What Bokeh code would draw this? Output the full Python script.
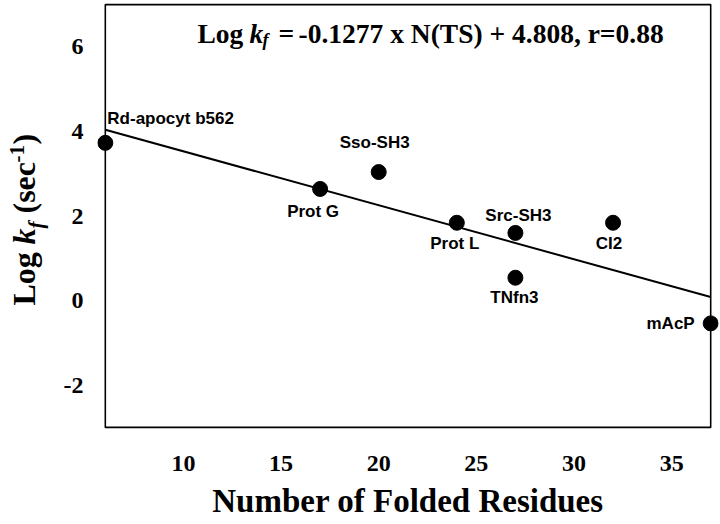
import math
from bokeh.plotting import figure
from bokeh.layouts import row
from bokeh.models import BoxAnnotation, Label, FixedTicker, ColumnDataSource
from bokeh.embed import file_html
from bokeh.resources import INLINE

# ---- data ----
proteins = ["Rd-apocyt b562", "Prot G", "Sso-SH3", "Prot L", "Src-SH3", "TNfn3", "CI2", "mAcP"]
folded_residues = [6, 17, 20, 24, 27, 27, 32, 37]
log_kf = [3.73, 2.64, 3.04, 1.84, 1.60, 0.54, 1.84, -0.54]
fit_slope = -0.1277
fit_intercept = 4.808
fit_x = [6, 37]
x_ticks = [10, 15, 20, 25, 30, 35]
x_tick_labels = ["10", "15", "20", "25", "30", "35"]
y_ticks = [-2, 0, 2, 4, 6]
y_tick_labels = ["-2", "0", "2", "4", "6"]
x_title = "Number of Folded Residues"

# ---- label placement styles (pixel offsets from points) ----
lab_dx = [2, -7, -4, -2, 3, -1, -4, -16]
lab_dy = [24, -23, 30, -21, 17, -20, -21, 0]
lab_align = ["left", "center", "center", "center", "center", "center", "center", "right"]

SERIF = "Liberation Serif"
SANS = "Liberation Sans"
LEFT_W = 50

# ---------------- main plot ----------------
p = figure(width=670, height=524,
           x_range=(5.6, 37.4), y_range=(-3.05, 7.05),
           output_backend="svg", toolbar_location=None,
           min_border_left=47, min_border_right=2, min_border_top=2, min_border_bottom=95)
p.outline_line_color = None
p.xgrid.visible = False
p.ygrid.visible = False
p.background_fill_color = "white"
p.border_fill_color = "white"

for ax in (p.xaxis[0], p.yaxis[0]):
    ax.axis_line_color = None
    ax.major_tick_line_color = None
    ax.minor_tick_line_color = None
    ax.major_tick_out = 0
    ax.major_tick_in = 0
    ax.minor_tick_out = 0
    ax.major_label_text_font = SERIF
    ax.major_label_text_font_style = "bold"
    ax.major_label_text_font_size = "24px"
    ax.major_label_text_color = "black"

p.xaxis[0].ticker = FixedTicker(ticks=x_ticks)
p.xaxis[0].major_label_overrides = dict(zip(x_ticks, x_tick_labels))
p.xaxis[0].major_label_standoff = 26
p.xaxis[0].axis_label = x_title
p.xaxis[0].axis_label_text_font = SERIF
p.xaxis[0].axis_label_text_font_style = "bold"
p.xaxis[0].axis_label_text_font_size = "33px"
p.xaxis[0].axis_label_text_color = "black"
p.xaxis[0].axis_label_text_line_height = 0.8
p.xaxis[0].axis_label_standoff = 9
p.yaxis[0].ticker = FixedTicker(ticks=y_ticks)
p.yaxis[0].major_label_overrides = dict(zip(y_ticks, y_tick_labels))
p.yaxis[0].major_label_standoff = 14

# frame box at the data limits
p.add_layout(BoxAnnotation(left=6, right=37, bottom=-3, top=7,
                           fill_color=None, fill_alpha=0,
                           line_color="black", line_alpha=1.0, line_width=1.6))

# regression line
fit_y = [fit_slope * v + fit_intercept for v in fit_x]
p.line(fit_x, fit_y, line_color="black", line_width=2)

# points
src = ColumnDataSource(dict(x=folded_residues, y=log_kf, name=proteins))
p.scatter("x", "y", source=src, size=15, marker="circle",
          fill_color="black", line_color="black")

# point labels
for name, xv, yv, dx, dy, al in zip(proteins, folded_residues, log_kf, lab_dx, lab_dy, lab_align):
    p.add_layout(Label(x=xv, y=yv, text=name, x_offset=dx, y_offset=dy,
                       text_align=al, text_baseline="alphabetic",
                       text_font=SANS, text_font_style="bold",
                       text_font_size="17px", text_color="black"))


def slab(fig, x, y, t, size, style="bold", angle=0.0, align="left"):
    fig.add_layout(Label(x=x, y=y, x_units="screen", y_units="screen", text=t,
                         text_font=SERIF, text_font_style=style, text_font_size=size,
                         text_align=align, text_baseline="alphabetic", angle=angle,
                         angle_units="rad", text_color="black"))

# equation (screen coords relative to frame bottom-left)
eq_y = 396
slab(p, 100, eq_y, "Log", "27.5px")
slab(p, 152, eq_y, "k", "27.5px", "bold italic")
slab(p, 165, eq_y - 6, "f", "18px", "bold italic")
slab(p, 181, eq_y, "=", "27.5px")
slab(p, 201, eq_y, "-0.1277 x N(TS) + 4.808, r=0.88", "27.5px")

# ---------------- y-axis title strip ----------------
yl = figure(width=LEFT_W, height=524, x_range=(0, LEFT_W), y_range=(0, 1),
            x_axis_location=None, y_axis_location=None,
            output_backend="svg", toolbar_location=None,
            min_border_left=0, min_border_right=0,
            min_border_top=2, min_border_bottom=95)
yl.outline_line_color = None
yl.grid.visible = False
yl.background_fill_color = "white"
yl.border_fill_color = "white"

a = math.pi / 2
bx = 23
slab(yl, bx, 124, "Log", "32px", angle=a)
slab(yl, bx, 185, "k", "32px", "bold italic", angle=a)
slab(yl, bx + 12, 201, "f", "21px", "bold italic", angle=a)
slab(yl, bx, 216, "(sec", "32px", angle=a)
slab(yl, bx - 7, 267, "-1", "21px", angle=a)
slab(yl, bx, 285, ")", "32px", angle=a)

layout = row(yl, p)
open("out.html", "w").write(file_html(layout, INLINE))
